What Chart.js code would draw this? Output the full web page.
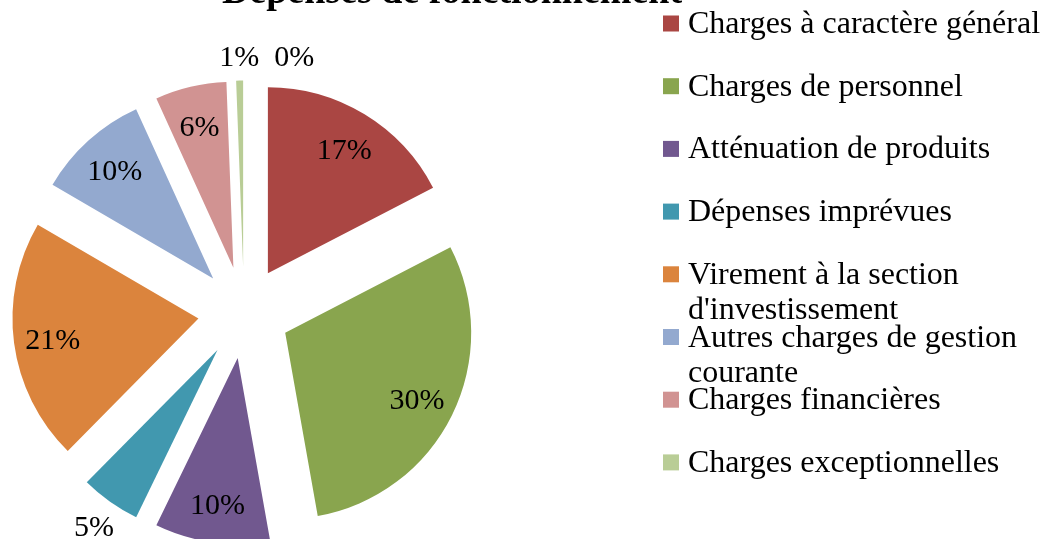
<!DOCTYPE html>
<html>
<head>
<meta charset="utf-8">
<script src="https://cdn.jsdelivr.net/npm/chart.js@4"></script>
<style>
  html, body { margin: 0; padding: 0; background: #fff; }
  #wrap { width: 1042px; height: 539px; }
</style>
</head>
<body>
<div id="wrap"><canvas id="mychart" width="1042" height="539"></canvas></div>
<script>
// Dépenses de fonctionnement (exploded pie)

const chartTitle = "Dépenses de fonctionnement";

const categories = [
  "Charges à caractère général",
  "Charges de personnel",
  "Atténuation de produits",
  "Dépenses imprévues",
  "Virement à la section d'investissement",
  "Autres charges de gestion courante",
  "Charges financières",
  "Charges exceptionnelles",
  "Opérations d'ordre de transfert entre sections",
];

// shares in %
const shares = [17.4, 29.8, 10, 5.2, 21, 9.8, 6.2, 0.6, 0];

const sliceColors = [
  "#AA4643",
  "#89A54E",
  "#71588F",
  "#4198AF",
  "#DB843D",
  "#93A9CF",
  "#D19392",
  "#B9CD96",
  "#A99BBD",
];

// only the first 8 entries show in the legend
const legendCount = 8;

const serif = "'Liberation Serif', 'Times New Roman', serif";

// push each slice out along its bisector
const explodePlugin = {
  id: "explode",
  afterDatasetsUpdate(chart) {
    const meta = chart.getDatasetMeta(0);
    meta.data.forEach((arc) => {
      const mid = (arc.startAngle + arc.endAngle) / 2;
      const d = arc.outerRadius * 0.247;
      arc.x += Math.cos(mid) * d;
      arc.y += Math.sin(mid) * d;
    });
  },
};

// percent labels, inside for big slices, outside for small ones
const labelPlugin = {
  id: "sliceLabels",
  afterDatasetsDraw(chart) {
    const ctx = chart.ctx;
    const meta = chart.getDatasetMeta(0);
    const total = shares.reduce((a, b) => a + b, 0);
    const placed = [];
    ctx.save();
    ctx.font = "30px " + serif;
    ctx.fillStyle = "#000";
    ctx.textAlign = "center";
    ctx.textBaseline = "middle";
    meta.data.forEach((arc, i) => {
      const pct = Math.round((shares[i] / total) * 100);
      const txt = pct + "%";
      const mid = (arc.startAngle + arc.endAngle) / 2;
      const r = arc.outerRadius;
      const hw = ctx.measureText(txt).width / 2;
      const hh = 13;
      const cx = Math.cos(mid);
      const cy = Math.sin(mid);
      let dist;
      if (pct >= 6) {
        dist = r * 0.79;
      } else {
        dist = r + 12 + Math.min(hw / Math.abs(cx), hh / Math.abs(cy));
      }
      let x = arc.x + cx * dist;
      const y = arc.y + cy * dist + 3;
      placed.forEach((b) => {
        if (Math.abs(b.y - y) < 2 * hh && x - hw < b.x + b.hw + 15 && x + hw > b.x - b.hw) {
          x = b.x + b.hw + 15 + hw;
        }
      });
      placed.push({ x, y, hw });
      ctx.fillText(txt, x, y);
    });
    ctx.restore();
  },
};

function wrapText(ctx, text, maxWidth) {
  const words = text.split(" ");
  const lines = [];
  let line = "";
  words.forEach((w) => {
    const test = line ? line + " " + w : w;
    if (line && ctx.measureText(test).width > maxWidth) {
      lines.push(line);
      line = w;
    } else {
      line = test;
    }
  });
  if (line) lines.push(line);
  return lines;
}

// title (cut at the top) and the right-hand legend
const sidePlugin = {
  id: "sideLegend",
  afterDraw(chart) {
    const ctx = chart.ctx;
    ctx.save();
    ctx.fillStyle = "#000";
    ctx.font = "bold 38px " + serif;
    ctx.textAlign = "center";
    ctx.textBaseline = "alphabetic";
    ctx.fillText(chartTitle, 452, 3);

    ctx.font = "32px " + serif;
    ctx.textAlign = "left";
    for (let i = 0; i < legendCount; i++) {
      const cy = 23.5 + i * 62.7;
      ctx.fillStyle = sliceColors[i];
      ctx.fillRect(663, cy - 8, 16, 16);
      ctx.fillStyle = "#000";
      wrapText(ctx, categories[i], 356).forEach((line, k) => {
        ctx.fillText(line, 688, cy + 9.5 + k * 35);
      });
    }
    ctx.restore();
  },
};

var ctx = document.getElementById("mychart").getContext("2d");

var myChart = new Chart(ctx, {
  type: "pie",
  data: {
    labels: categories,
    datasets: [
      {
        data: shares,
        backgroundColor: sliceColors,
        borderWidth: 0,
      },
    ],
  },
  options: {
    responsive: false,
    animation: false,
    events: [],
    layout: {
      padding: { left: 58, top: 126.5, right: 612, bottom: 40.5 },
    },
    plugins: {
      legend: { display: false },
      tooltip: { enabled: false },
      title: { display: false },
    },
  },
  plugins: [explodePlugin, labelPlugin, sidePlugin],
});
</script>
</body>
</html>
